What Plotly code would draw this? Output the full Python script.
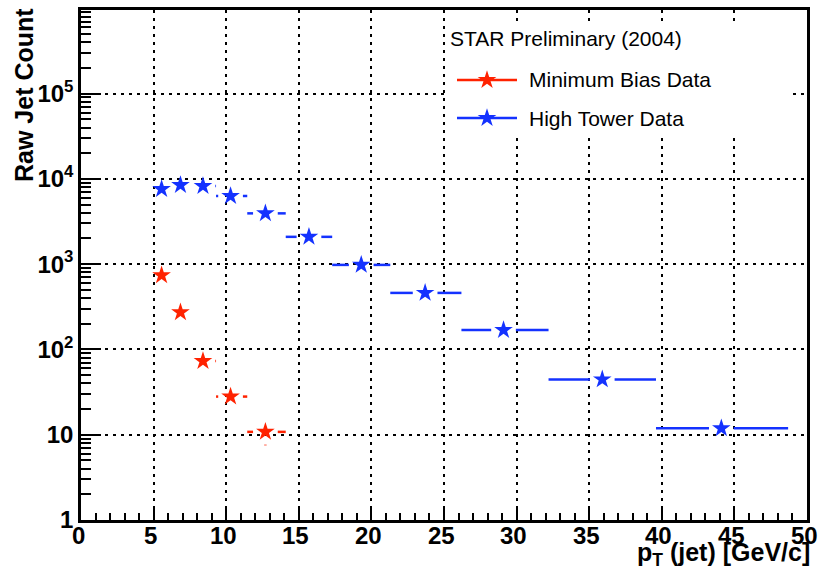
import math
import plotly.graph_objects as go

# ---- data ----
pt_mb = [5.55, 6.85, 8.4, 10.3, 12.7]
cnt_mb = [740, 272, 73, 28, 10.8]
err_mb = [27, 16.5, 8.5, 5.3, 3.3]
lo_mb = [5.0, 6.15, 7.57, 9.3, 11.45]
hi_mb = [6.15, 7.57, 9.3, 11.45, 14.1]

pt_ht = [5.55, 6.85, 8.4, 10.3, 12.7, 15.7, 19.3, 23.7, 29.1, 35.9, 44.1]
cnt_ht = [7600, 8460, 8240, 6300, 3940, 2090, 980, 460, 169, 44.5, 11.9]
err_ht = [87, 92, 91, 79, 63, 46, 31, 21, 13, 6.7, 3.4]
lo_ht = [5.0, 6.15, 7.57, 9.3, 11.45, 14.1, 17.3, 21.3, 26.2, 32.2, 39.6]
hi_ht = [6.15, 7.57, 9.3, 11.45, 14.1, 17.3, 21.3, 26.2, 32.2, 39.6, 48.7]

series_names = ["Minimum Bias Data", "High Tower Data"]
legend_title = "STAR Preliminary (2004)"

x_ticks = [0, 5, 10, 15, 20, 25, 30, 35, 40, 45, 50]
x_ticktext = ["0", "5", "10", "15", "20", "25", "30", "35", "40", "45", "50"]
y_tickvals = [1, 10, 100, 1000, 10000, 100000]
y_ticktext = ["1", "10", "10<sup>2</sup>", "10<sup>3</sup>", "10<sup>4</sup>", "10<sup>5</sup>"]
y_minor = [m * 10 ** k for k in range(0, 6) for m in range(2, 10)]

RED = "#ff2200"
BLUE = "#1432ff"
COLORS = [RED, BLUE]
FONT = "Liberation Sans, Arial, Helvetica, sans-serif"

W, H = 822, 575
ML, MR, MT, MB = 81, 15, 10, 55
PW, PH = W - ML - MR, H - MT - MB


def px(xp):  # pixel x -> paper / domain x
    return (xp - ML) / PW


def py(yp):  # pixel y -> paper / domain y
    return (H - MB - yp) / PH


# gap around the marker (ROOT style error bars), in axis units
GX = 0.85   # pT units
GY = 0.15   # decades


def bar_segments(x, y, lo, hi, err):
    xs, ys = [], []
    for xi, yi, l, h, e in zip(x, y, lo, hi, err):
        if xi - GX > l:
            xs += [l, xi - GX, None]
            ys += [yi, yi, None]
        if xi + GX < h:
            xs += [xi + GX, h, None]
            ys += [yi, yi, None]
        ly = math.log10(yi)
        if yi - e > 0 and ly - GY > math.log10(yi - e):
            xs += [xi, xi, None]
            ys += [yi - e, 10 ** (ly - GY), None]
        if ly + GY < math.log10(yi + e):
            xs += [xi, xi, None]
            ys += [10 ** (ly + GY), yi + e, None]
    return xs, ys


fig = go.Figure()

for x, y, lo, hi, err, col, name in [
    (pt_mb, cnt_mb, lo_mb, hi_mb, err_mb, RED, series_names[0]),
    (pt_ht, cnt_ht, lo_ht, hi_ht, err_ht, BLUE, series_names[1]),
]:
    sx, sy = bar_segments(x, y, lo, hi, err)
    fig.add_trace(go.Scatter(x=sx, y=sy, mode="lines", line=dict(color=col, width=2.5),
                             showlegend=False, hoverinfo="skip"))
    fig.add_trace(go.Scatter(x=x, y=y, mode="markers", name=name,
                             marker=dict(symbol="star", size=14, color=col, line=dict(width=0)),
                             showlegend=False))

# ---- ROOT-style legend drawn on an overlay frame (domain units 0..1) ----
BOX = (445, 792, 22, 138)  # left, right, top, bottom (px)
fig.add_trace(go.Scatter(
    x=[px(BOX[0]), px(BOX[1]), px(BOX[1]), px(BOX[0]), px(BOX[0])],
    y=[py(BOX[2]), py(BOX[2]), py(BOX[3]), py(BOX[3]), py(BOX[2])],
    xaxis="x2", yaxis="y2", mode="lines", fill="toself", fillcolor="white",
    line=dict(width=0, color="white"), showlegend=False, hoverinfo="skip"))

LEG_STAR_X = 487
LEG_HALF = 30
ROW_Y = [80, 118]
for ry, col in zip(ROW_Y, COLORS):
    fig.add_trace(go.Scatter(
        x=[px(LEG_STAR_X - LEG_HALF), px(LEG_STAR_X + LEG_HALF)], y=[py(ry), py(ry)],
        xaxis="x2", yaxis="y2", mode="lines", line=dict(color=col, width=2.5),
        showlegend=False, hoverinfo="skip"))
    fig.add_trace(go.Scatter(
        x=[px(LEG_STAR_X)], y=[py(ry)], xaxis="x2", yaxis="y2", mode="markers",
        marker=dict(symbol="star", size=14, color=col, line=dict(width=0)),
        showlegend=False, hoverinfo="skip"))

annotations = [
    dict(text=legend_title, xref="paper", yref="paper", x=px(448), y=py(38),
         xanchor="left", yanchor="middle", showarrow=False,
         font=dict(size=21, family=FONT)),
    dict(text="Raw Jet Count", textangle=-90, xref="paper", yref="paper",
         x=px(24), y=py(6), xanchor="center", yanchor="top", showarrow=False,
         font=dict(size=25, family=FONT, weight="bold")),
    dict(text="p<sub>T</sub> (jet) [GeV/c]", xref="paper", yref="paper",
         x=px(812), y=py(554), xanchor="right", yanchor="middle", showarrow=False,
         font=dict(size=25, family=FONT, weight="bold")),
]
for ry, name in zip(ROW_Y, series_names):
    annotations.append(dict(text=name, xref="paper", yref="paper", x=px(527), y=py(ry),
                            xanchor="left", yanchor="middle", showarrow=False,
                            font=dict(size=21, family=FONT)))
# x tick labels (ROOT places them a bit closer to the axis than plotly does)
for tv, tt in zip(x_ticks, x_ticktext):
    annotations.append(dict(text=tt, xref="x", yref="paper", x=tv, y=py(535),
                            xanchor="center", yanchor="middle", xshift=-3, showarrow=False,
                            font=dict(size=24, family=FONT, weight="bold")))

fig.update_layout(
    width=W, height=H,
    margin=dict(l=ML, r=MR, t=MT, b=MB, autoexpand=False),
    plot_bgcolor="white", paper_bgcolor="white",
    font=dict(family=FONT, color="black"),
    showlegend=False,
    annotations=annotations,
    xaxis=dict(
        range=[0, 50], tickvals=x_ticks, ticks="inside", ticklen=14, tickwidth=2,
        tickcolor="black", automargin=False, showticklabels=False,
        minor=dict(dtick=1, ticks="inside", ticklen=7, tickwidth=2, tickcolor="black",
                   showgrid=False),
        showline=True, linewidth=2.5, linecolor="black", mirror=True,
        showgrid=True, gridcolor="black", gridwidth=2, griddash="3px,5px",
        zeroline=False,
    ),
    yaxis=dict(
        type="log", range=[0, 5.98], tickvals=y_tickvals, ticktext=y_ticktext,
        ticks="inside", ticklen=20, tickwidth=2, tickcolor="black", automargin=False,
        minor=dict(tickvals=y_minor, ticks="inside", ticklen=10, tickwidth=2,
                   tickcolor="black", showgrid=False),
        showline=True, linewidth=2.5, linecolor="black", mirror=True,
        showgrid=True, gridcolor="black", gridwidth=2, griddash="3px,5px",
        tickfont=dict(size=24, family=FONT, weight="bold"),
        zeroline=False,
    ),
    xaxis2=dict(overlaying="x", anchor="y2", range=[0, 1], visible=False, fixedrange=True),
    yaxis2=dict(overlaying="y", anchor="x2", range=[0, 1], visible=False, fixedrange=True),
)

fig.write_html("out.html", config={"displayModeBar": False},
               post_script="document.body.style.margin='0px';")
